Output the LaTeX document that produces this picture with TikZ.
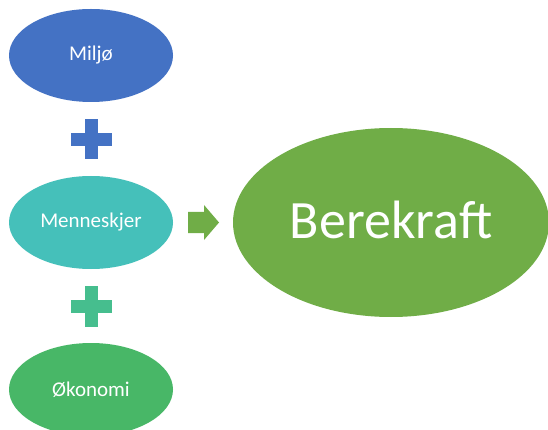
\documentclass[tikz,border=0pt]{standalone}
\usepackage{fontspec}
\setmainfont{Carlito}
\usepackage{xcolor}
\usetikzlibrary{shapes.geometric}

\definecolor{miljoblue}{HTML}{4472C4}
\definecolor{menneskteal}{HTML}{45C0BA}
\definecolor{plusgreen}{HTML}{46BE8E}
\definecolor{okonomigreen}{HTML}{48B767}
\definecolor{kraftgreen}{HTML}{70AD47}

\tikzset{oval/.style={ellipse, inner sep=0pt, text=white, minimum width=164, minimum height=93, font=\fontsize{21}{25}\selectfont}}

\begin{document}
\begin{tikzpicture}[x=1pt,y=-1pt]
\useasboundingbox (0,0) rectangle (548,430);
\clip (0,0) rectangle (548,430);

\node [oval, fill=miljoblue] (miljo) at (91,55.5) {Miljø};
\node [oval, fill=menneskteal] (menneske) at (91,222.5) {Menneskjer};
\node [oval, fill=okonomigreen] (okonomi) at (91,389.5) {Økonomi};

% pluss-teikn
\fill[miljoblue] (85,119) rectangle (98,159);
\fill[miljoblue] (71,133) rectangle (112,146);
\fill[plusgreen] (85,286) rectangle (98,327);
\fill[plusgreen] (71,300) rectangle (112,313);

% pil
\fill[kraftgreen] (188,212) -- (204,212) -- (204,205) -- (219,222.5) -- (204,240) -- (204,233) -- (188,233) -- cycle;

\node [ellipse, inner sep=0pt, fill=kraftgreen, minimum width=316, minimum height=189] (berekraft) at (391,222.5) {};
\node [text=white, font=\fontsize{54}{60}\selectfont, inner sep=0pt] (berekrafttekst) at ([yshift=3pt]berekraft.center) {Berekraft};

\end{tikzpicture}
\end{document}
